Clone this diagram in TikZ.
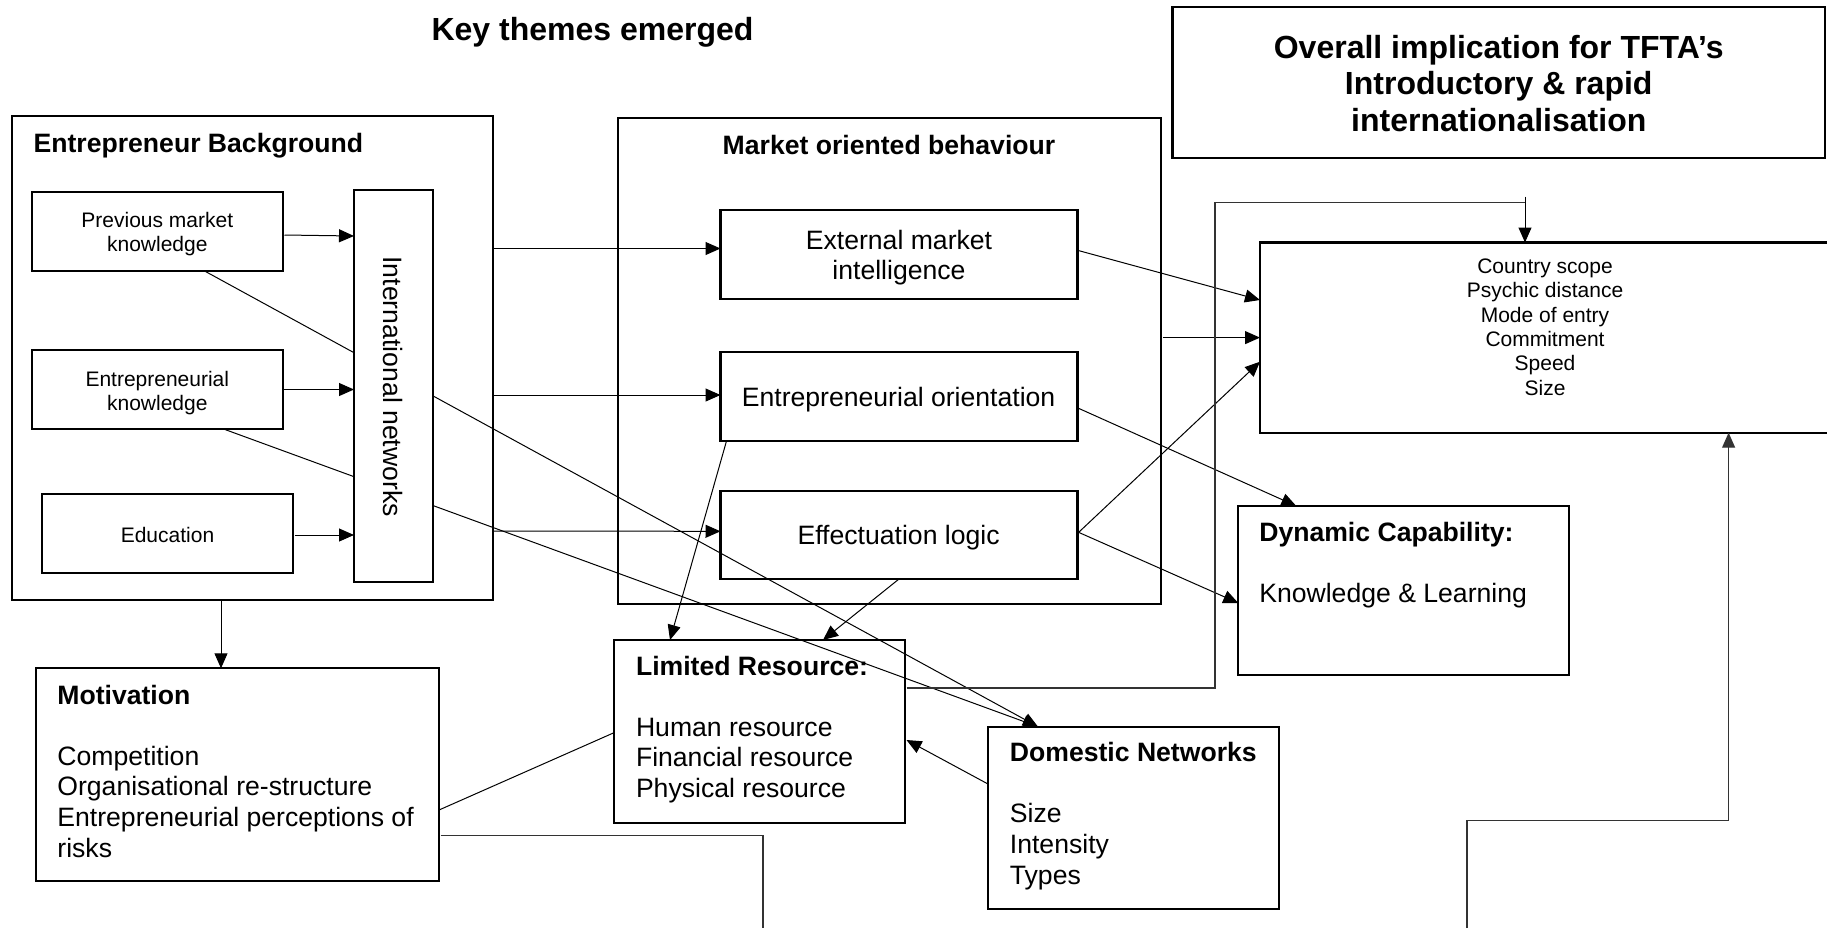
\documentclass[tikz,border=0pt]{standalone}
\usepackage{fontspec}
\setmainfont{Liberation Sans}
\usetikzlibrary{arrows.meta,calc}
\newcommand\fbig{\fontsize{16}{18.3}\selectfont\bfseries}
\newcommand\fnorm{\fontsize{13.3}{15.3}\selectfont}
\newcommand\fnormb{\fontsize{13.3}{15.3}\selectfont\bfseries}
\newcommand\fsml{\fontsize{10.5}{12.15}\selectfont}
\tikzset{
  box/.style={draw=black, line width=1.1pt, inner sep=0pt, outer sep=0pt, anchor=center},
  conn/.style={draw=black, line width=0.5pt},
  arr/.style={conn, -{Triangle[length=7.5pt,width=6.5pt]}},
  route/.style={draw=black!80, line width=0.55pt},
  rarr/.style={route, -{Triangle[length=7.5pt,width=6.5pt]}},
  txt/.style={inner sep=0pt, outer sep=0pt, text=black},
}
\begin{document}
\begin{tikzpicture}[x=0.5pt,y=-0.5pt]
\useasboundingbox (0,0) rectangle (1827,928);
% boxes
\node[box, minimum width=240.5pt, minimum height=242pt] (EB) at (252.5,358) {};
\node[box, minimum width=125.7pt, minimum height=39.5pt] (PMK) at (157.3,231.5) {};
\node[box, minimum width=125.7pt, minimum height=39.5pt] (EK) at (157.3,389.5) {};
\node[box, minimum width=125.5pt, minimum height=39.5pt] (Edu) at (167.5,533.5) {};
\node[box, minimum width=271.5pt, minimum height=243pt] (MOB) at (889.5,361) {};
\node[box, minimum width=178.5pt, minimum height=44.5pt] (EMI) at (899,254.5) {};
\node[box, minimum width=178.5pt, minimum height=44.5pt] (EO) at (899,396.5) {};
\node[box, minimum width=178.5pt, minimum height=44pt] (EffL) at (899,535) {};
\node[box, minimum width=326.25pt, minimum height=75.8pt] (OV) at (1498.75,82.5) {};
\node[box, minimum width=290pt, minimum height=95.1pt] (CS) at (1550,337.6) {};
\node[box, minimum width=165.35pt, minimum height=84.5pt] (DC) at (1403.65,590.5) {};
\node[box, minimum width=145.35pt, minimum height=91.35pt] (LR) at (759.65,731.35) {};
\node[box, minimum width=145.35pt, minimum height=91.15pt] (DN) at (1133.35,817.85) {};
\node[box, minimum width=201.7pt, minimum height=106.35pt] (Mot) at (237.3,774.65) {};
% helper coordinates
\coordinate (motTop) at ($(Mot.north west)+(185.4,0)$);
\coordinate (motEnd) at (763,928);
\coordinate (cstop) at ($(CS.north west)+(265,0)$);
\coordinate (lrOut) at ($(LR.north east)+(1.5,48)$);
\coordinate (bStart) at (1467,928);
\coordinate (csbot) at ($(CS.south west)+(468.6,0)$);
\coordinate (dnIn) at ($(DN.north west)+(50,0)$);
% connectors
\draw[arr] ($(PMK.south west)+(173,0)$) -- (dnIn);
\draw[arr] ($(EK.south west)+(192,0)$) -- (dnIn);
\draw[arr] ($(EB.north east)+(0,132.5)$) -- ($(EMI.north west)+(0,38.5)$);
\draw[arr] ($(EB.north east)+(0,279)$) -- ($(EO.north west)+(0,43)$);
\draw[arr] ($(EB.north east)+(0,415)$) -- ($(EffL.north west)+(0,40.3)$);
\draw[arr] ($(EMI.east)+(1.5,-3.8)$) -- ($(CS.north west)+(0,57.5)$);
\draw[arr] ($(MOB.east |- CS.west)+(2,0)$) -- (CS.west);
\draw[arr] ($(EffL.east)+(1.5,-3)$) -- ($(CS.north west)+(0,119.2)$);
\draw[arr] ($(EO.east)+(1.5,12)$) -- ($(DC.north west)+(58,0)$);
\draw[arr] ($(EffL.east)+(1.5,-2.5)$) -- ($(DC.north west)+(0,97)$);
\draw[arr] ($(EO.south west)+(6,0)$) -- ($(LR.north west)+(55.7,0)$);
\draw[arr] (EffL.south) -- ($(LR.north west)+(208.7,0)$);
\draw[arr] ($(DN.north west)+(0,57.3)$) -- ($(LR.north east)+(1.5,100)$);
\draw[conn] ($(LR.north west)+(-1,93)$) -- ($(Mot.north east)+(0,141.7)$);
\draw[route] ($(Mot.north east)+(1.5,167.2)$) -| (motEnd);
\draw[arr] (motTop |- EB.south) -- (motTop);
\draw[route] (lrOut) -- ++(308.5,0) |- ($(cstop)+(0,-40)$);
\draw[arr] ($(cstop)+(0,-46)$) -- (cstop);
\draw[rarr] (bStart) |- ($(csbot)+(0,388)$) -- (csbot);
% international networks box drawn over the lines that pass behind it
\node[box, fill=white, minimum width=39.5pt, minimum height=196pt] (IN) at (393.5,386) {};
\draw[arr] ($(PMK.east)+(1.5,3.5)$) -- ($(IN.west |- PMK.east)+(0,4.5)$);
\draw[arr] ($(EK.east)+(1,0)$) -- (EK.east -| IN.west);
\draw[arr] ($(Edu.east)+(1.5,1.5)$) -- ($(Edu.east -| IN.west)+(0,1.5)$);
% texts (multi-line nodes: base = baseline of the last line)
\node[txt, anchor=base, font=\fbig] (kt) at (592.5,40.5) {Key themes emerged};
\node[txt, anchor=base, align=center, font=\fbig] (ovt) at (1498.75,131.2) {Overall implication for TFTA’s\\Introductory \& rapid\\internationalisation};
\node[txt, anchor=base west, font=\fnormb] (ebt) at (33.6,152) {Entrepreneur Background};
\node[txt, anchor=base, align=center, font=\fsml] (pmkt) at (157.3,251.8) {Previous market\\knowledge};
\node[txt, anchor=base, align=center, font=\fsml] (ekt) at (157.3,410.3) {Entrepreneurial\\knowledge};
\node[txt, anchor=base, font=\fsml] (edut) at (167.5,542.3) {Education};
\node[txt, rotate=-90, font=\fnorm] (intt) at (392.6,386.7) {International networks};
\node[txt, anchor=base, font=\fnormb] (mobt) at (889,154) {Market oriented behaviour};
\node[txt, anchor=base, align=center, font=\fnorm] (emit) at (899,279.6) {External market\\intelligence};
\node[txt, anchor=base, font=\fnorm] (eot) at (898.6,406.3) {Entrepreneurial orientation};
\node[txt, anchor=base, font=\fnorm] (efft) at (898.6,544) {Effectuation logic};
\node[txt, anchor=base, align=center, font=\fsml] (cst) at (1545,395) {Country scope\\Psychic distance\\Mode of entry\\Commitment\\Speed\\Size};
\node[txt, anchor=base west, align=left, font=\fnorm] (dct) at (1259.3,602.9) {\textbf{Dynamic Capability:}\\[15.3pt]Knowledge \& Learning};
\node[txt, anchor=base west, align=left, font=\fnorm] (lrt) at (636,797.4) {\textbf{Limited Resource:}\\[15.3pt]Human resource\\Financial resource\\Physical resource};
\node[txt, anchor=base west, align=left, font=\fnorm] (dnt) at (1009.9,884.1) {\textbf{Domestic Networks}\\[15.3pt]Size\\Intensity\\Types};
\node[txt, anchor=base west, align=left, font=\fnorm] (mott) at (57.4,857) {\textbf{Motivation}\\[15.3pt]Competition\\Organisational re-structure\\Entrepreneurial perceptions of\\risks};
\end{tikzpicture}
\end{document}
